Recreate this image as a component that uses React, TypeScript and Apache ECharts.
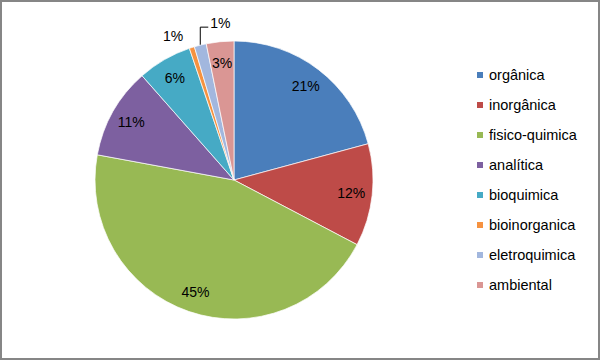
import React, { useEffect, useRef } from "react";
import * as echarts from "echarts";

const categories = [
  "orgânica",
  "inorgânica",
  "fisico-quimica",
  "analítica",
  "bioquimica",
  "bioinorganica",
  "eletroquimica",
  "ambiental",
];
const values = [20.8, 11.9, 45.2, 10.6, 6.3, 0.6, 1.4, 3.2];
const colors = ["#4A7EBB", "#BE4B48", "#98B954", "#7D60A0", "#46AAC5", "#F69240", "#A2B7DE", "#DA9694"];
const outsideLabelIdx = [5, 6];

export default function App() {
  const ref = useRef<HTMLDivElement>(null);
  useEffect(() => {
    document.body.style.margin = "0";
    const chart = echarts.init(ref.current!, undefined, { renderer: "svg" });
    const font = "'Liberation Sans', Arial, sans-serif";
    const pct = (p: any) => Math.round(p.percent) + "%";
    const mainData = categories.map((name, i) => ({
      name,
      value: values[i],
      itemStyle: { color: colors[i] },
      label: outsideLabelIdx.includes(i) ? { show: true } : { show: false },
      labelLine: outsideLabelIdx.includes(i)
        ? { show: i === 6, length: i === 6 ? 18 : 12, length2: i === 6 ? 8 : 2 }
        : { show: false },
    }));
    const overlayData = categories.map((name, i) => ({
      name,
      value: values[i],
      itemStyle: { color: "rgba(0,0,0,0)", borderWidth: 0 },
      label: { show: !outsideLabelIdx.includes(i) },
    }));
    chart.setOption({
      animation: false,
      textStyle: { fontFamily: font },
      graphic: [
        {
          type: "rect",
          shape: { x: 1, y: 1, width: 598, height: 358 },
          style: { fill: "none", stroke: "#868686", lineWidth: 2 },
          silent: true,
        },
      ],
      legend: {
        orient: "vertical",
        left: 475,
        top: 67,
        padding: 0,
        itemWidth: 8,
        itemHeight: 8,
        itemGap: 14,
        icon: "rect",
        data: categories,
        textStyle: { fontFamily: font, fontSize: 14.5, color: "#000", lineHeight: 16 },
      },
      series: [
        {
          type: "pie",
          center: [234, 180],
          radius: [0, 139],
          startAngle: 90,
          clockwise: true,
          avoidLabelOverlap: false,
          itemStyle: { borderColor: "#ffffff", borderWidth: 0.7 },
          label: {
            position: "outside",
            formatter: pct,
            fontFamily: font,
            fontSize: 14,
            color: "#000",
            distanceToLabelLine: 3,
          },
          labelLine: { lineStyle: { color: "#000", width: 1 }, smooth: false },
          labelLayout: (p: any) => {
            if (p.dataIndex === 6 && p.labelLinePoints) {
              const s = p.labelLinePoints[0];
              const topY = s[1] - 18;
              return {
                x: s[0] + 10,
                y: topY - 4,
                align: "left",
                verticalAlign: "middle",
                labelLinePoints: [
                  [s[0], s[1]],
                  [s[0], topY],
                  [s[0] + 8, topY],
                ],
              };
            }
            return {};
          },
          data: mainData,
        },
        {
          type: "pie",
          center: [234, 180],
          radius: [92, 138],
          startAngle: 90,
          clockwise: true,
          silent: true,
          avoidLabelOverlap: false,
          label: {
            position: "inside",
            formatter: pct,
            fontFamily: font,
            fontSize: 14,
            color: "#000",
          },
          labelLine: { show: false },
          data: overlayData,
        },
      ],
    });
    return () => chart.dispose();
  }, []);
  return <div ref={ref} style={{ width: 600, height: 360 }} />;
}
